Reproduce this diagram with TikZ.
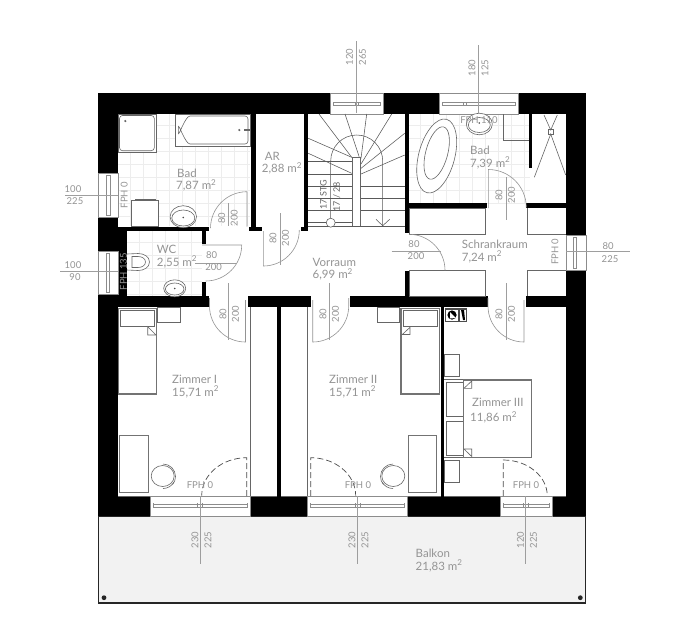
\documentclass[tikz,border=0pt]{standalone}
\usepackage{fontspec}
\setmainfont{Lato}
\tikzset{
    room_txt/.style = {align=left, inner sep=0pt, anchor=north west, text=black!42, font=\fontsize{11.5}{12.5}\selectfont},
    dim_txt/.style = {inner sep=0pt, text=black!42, font=\fontsize{9.5}{10}\selectfont},
    stg_txt/.style = {dim_txt, rotate=90, text=black!60, font=\fontsize{9}{10}\selectfont},
    wall/.style = {fill=black, draw=none},
    plan_line/.style = {draw=black!60, line width=0.6pt},
    bold_line/.style = {draw=black!55, line width=1.3pt},
    dim_line/.style = {draw=black!38, line width=0.5pt},
    door_line/.style = {draw=black!42, line width=0.6pt},
    glass_door/.style = {draw=black!70, line width=0.7pt, dash pattern=on 6pt off 3pt},
    tile_line/.style = {draw=black!7, line width=0.4pt},
    stair_line/.style = {draw=black!65, line width=0.55pt},
    frame_line/.style = {draw=black!45, line width=0.45pt}
}
\begin{document}
\begin{tikzpicture}[x=1pt, y=-1pt]
    \useasboundingbox (0,0) rectangle (700,641);
    \fill[white] (0,0) rectangle (700,641);
    \foreach \tx in {130,143,...,250} {\draw[tile_line] (\tx,114) -- (\tx,226);}
    \foreach \ty in {125,138,...,226} {\draw[tile_line] (118,\ty) -- (250,\ty);}
    \foreach \tx in {139,152,...,202} {\draw[tile_line] (\tx,231) -- (\tx,296);}
    \foreach \ty in {242,255,...,296} {\draw[tile_line] (127,\ty) -- (202,\ty);}
    \foreach \tx in {420,433,...,530} {\draw[tile_line] (\tx,114) -- (\tx,203);}
    \foreach \ty in {125,138,...,203} {\draw[tile_line] (409,\ty) -- (530,\ty);}

    \draw[draw=black!85, fill=black!5, line width=1.4pt] (98.5,516) rectangle (585.2,603);
    \fill[wall] (98,93) rectangle (330.5,114);
    \fill[wall] (383,93) rectangle (439,114);
    \fill[wall] (518,93) rectangle (586,114);
    \fill[wall] (98,93) rectangle (118,173);
    \fill[wall] (98,217) rectangle (118,251);
    \fill[wall] (98,294) rectangle (118,516);
    \fill[wall] (118,226.5) rectangle (127,307);
    \fill[wall] (118,226.5) rectangle (209,231);
    \fill[wall] (202,231) rectangle (206,244);
    \fill[wall] (202,282) rectangle (206,296);
    \fill[wall] (118,296) rectangle (209,307);
    \fill[wall] (247.5,296) rectangle (311,307);
    \fill[wall] (350,296) rectangle (487.5,307);
    \fill[wall] (525.5,296) rectangle (566,307);
    \fill[wall] (566,93) rectangle (586,235);
    \fill[wall] (566,270) rectangle (586,516);
    \fill[wall] (250.7,114) rectangle (255.5,231);
    \fill[wall] (248.5,226.7) rectangle (261.5,231);
    \fill[wall] (303.7,114) rectangle (308.3,231);
    \fill[wall] (300.7,226.7) rectangle (308.3,231);
    \fill[wall] (404.8,114) rectangle (409,233);
    \fill[wall] (405,271) rectangle (409,296);
    \fill[wall] (409,203.3) rectangle (486.7,208.3);
    \fill[wall] (526,203.3) rectangle (566,208.3);
    \fill[wall] (529.3,114) rectangle (531.7,168);
    \fill[wall] (276.7,307) rectangle (281,496);
    \fill[wall] (440.5,307) rectangle (444.3,496);
    \fill[wall] (98,496) rectangle (150,516);
    \fill[wall] (250.5,496) rectangle (307.5,516);
    \fill[wall] (407.7,496) rectangle (500,516);
    \fill[wall] (552,496) rectangle (586,516);

    \draw[plan_line] (118,496) -- (276.7,496);
    \draw[plan_line] (281,496) -- (440.5,496);
    \draw[plan_line] (444.3,496) -- (566,496);
    \draw[plan_line] (250.7,307) -- (250.7,496);
    \draw[plan_line] (307.3,307) -- (307.3,496);

    \foreach \xa/\xb/\xm in {150/250.5/200, 307.5/407.7/357.3, 500/552/525.7} {
        \draw[frame_line, fill=white] (\xa,496) rectangle (\xb,516);
        \draw[frame_line] (\xa+3,504) rectangle (\xb-3,507);
        \draw[frame_line] (\xa+3,503) -- (\xa+3,508) (\xb-3,503) -- (\xb-3,508) (\xm-2.5,503) -- (\xm-2.5,508) (\xm+2.5,503) -- (\xm+2.5,508);
    }
    \foreach \xa/\xb/\xm in {330.5/383/356.7, 439/518/465} {
        \draw[frame_line, fill=white] (\xa,93) rectangle (\xb,114);
        \draw[frame_line] (\xa+3,102) rectangle (\xb-3,105.5);
        \draw[frame_line] (\xm-1.5,102) -- (\xm-1.5,105.5) (\xm+1.5,102) -- (\xm+1.5,105.5);
    }
    \foreach \ya/\yb/\xa/\xb/\xc/\xd in {173/217/98/118/106.7/110, 251/294/98/118/106.7/109.5, 235/270/566/586/573.5/576.5} {
        \draw[frame_line, fill=white] (\xa,\ya) rectangle (\xb,\yb);
        \draw[frame_line] (\xc,\ya+2) rectangle (\xd,\yb-2);
    }

    \draw[plan_line] (409,208.3) rectangle (485.5,234);
    \draw[plan_line] (527.7,208.3) -- (527.7,234) -- (566,234);
    \draw[plan_line] (409,270) rectangle (485.5,296);
    \draw[plan_line] (566,270) -- (527.7,270) -- (527.7,296);

    \draw[plan_line, fill=white] (118,114) rectangle (156,152.7);
    \draw[plan_line, fill=white, rounded corners=3pt] (119.5,115.5) rectangle (154.3,150.7);
    \fill[black!60] (125.3,121) circle (1.2);
    \draw[plan_line, fill=white] (175.3,114) rectangle (250.5,146);
    \draw[plan_line, fill=white, rounded corners=3pt] (248,116) -- (193,116) to[out=180,in=270] (178.3,130) to[out=90,in=180] (193,144) -- (248,144) -- cycle;
    \fill[black!60] (239.3,130) circle (1.2);
    \fill[black!60] (244,129) rectangle (250.5,131);
    \draw[plan_line, fill=white] (131.7,200) rectangle (158.7,226.5);
    \draw[plan_line] (135,198.8) -- (156,198.8);
    \draw[plan_line, fill=white] (183.3,216.7) ellipse [x radius=13.2, y radius=11];
    \draw[plan_line] (183.3,218) ellipse [x radius=11.5, y radius=8];
    \fill[black!70] (183.3,217.5) circle (0.9);

    \draw[plan_line, fill=white] (127,254) -- (138,253.5) to[out=0,in=90] (149.5,262) to[out=-90,in=0] (138,270.5) -- (127,270);
    \draw[plan_line] (132,256.5) -- (138,256.5) to[out=0,in=90] (145.5,262) to[out=-90,in=0] (138,267.5) -- (132,267.5) -- cycle;
    \draw[plan_line, fill=white] (174.7,288.3) ellipse [x radius=11, y radius=8.5];
    \draw[plan_line] (174.7,289) ellipse [x radius=9.3, y radius=6];
    \fill[black!70] (174.7,288.5) circle (0.9);

    \draw[plan_line, fill=white, rotate around={-15:(436.7,156)}] (436.7,156) ellipse [x radius=18, y radius=38];
    \draw[plan_line, rotate around={-15:(436.7,153)}] (436.7,153) ellipse [x radius=11, y radius=27];
    \draw[plan_line, fill=white] (479.3,124) ellipse [x radius=13, y radius=10.8];
    \draw[plan_line] (479.3,125) ellipse [x radius=11, y radius=7.5];
    \fill[black!70] (479.3,123) circle (0.9);
    \draw[plan_line] (503.3,114) -- (503.3,140) -- (529.3,140);
    \draw[plan_line] (544,115) -- (550.7,130) -- (557.3,115);
    \draw[plan_line] (548.5,129) rectangle (552.9,134);
    \draw[plan_line] (534.3,177.3) -- (550.7,134) -- (565.7,175);

    \foreach \xa/\ya/\xb/\yb in {319/114/351.7/157.3, 345/114/359.3/157.3, 366.7/114/361/158.3, 391.7/114/361/164, 404.7/133.3/361/168.3, 404.7/155/361/174, 308.3/138.3/351.7/157.3, 308.3/153.3/351.7/173.3} {
        \draw[stair_line] (\xa,\ya) -- (\xb,\yb);
    }
    \foreach \ty in {161.7,174,186,198.3,210.7,222.7} {\draw[stair_line] (308.3,\ty) -- (352.3,\ty);}
    \foreach \ty in {186,198.3,210.7} {\draw[stair_line] (360.7,\ty) -- (404.8,\ty);}
    \draw[stair_line] (308.3,226.3) -- (404.8,226.3);
    \draw[plan_line, line width=0.8pt, fill=white] (352.3,226) -- (352.3,157.3) -- (360.7,157.3) -- (360.7,226);
    \draw[stair_line] (330.7,218) -- (330.7,161) arc [start angle=180, end angle=360, radius=26] -- (382.7,225.5);
    \draw[stair_line] (376,219.3) -- (382.7,225.7) -- (389.7,219.3);
    \draw[stair_line, fill=white] (330.7,222.7) circle (4.5);

    \draw[door_line] (247,191.7) -- (247,226.5) (247,191.7) arc [start angle=270, end angle=180, radius=36.5];
    \draw[door_line] (263.3,231) -- (263.3,266) arc [start angle=90, end angle=0, radius=36];
    \draw[door_line] (202,245) -- (241.7,245) arc [start angle=0, end angle=90, radius=36];
    \draw[door_line] (245.5,300) -- (245.5,342) arc [start angle=90, end angle=180, radius=36] -- (209.5,298);
    \draw[door_line] (312.7,300) -- (312.7,342) arc [start angle=90, end angle=0, radius=36] -- (348.7,298);
    \draw[door_line] (524,300) -- (524,342) arc [start angle=90, end angle=180, radius=36] -- (488,298);
    \draw[door_line] (409,234.3) arc [start angle=270, end angle=360, radius=36];
    \draw[door_line] (488.3,208) -- (488.3,169.5) arc [start angle=270, end angle=360, radius=38];

    \draw[glass_door] (246.7,496) -- (246.7,457.7) arc [start angle=270, end angle=180, x radius=45, y radius=38];
    \draw[glass_door] (310.7,496) -- (310.7,457.7) arc [start angle=270, end angle=360, x radius=45, y radius=38];
    \draw[glass_door] (503.3,496) -- (503.3,460) arc [start angle=270, end angle=360, x radius=44, y radius=36];

    \draw[dim_line] (356.7,41) -- (356.7,113);
    \draw[dim_line] (478.5,45) -- (478.5,113);
    \draw[dim_line] (65,195.5) -- (118,195.5);
    \draw[dim_line] (60,271.7) -- (118,271.7);
    \draw[dim_line] (566,251.7) -- (630,251.7);
    \draw[dim_line] (200,496) -- (200,564);
    \draw[dim_line] (357.3,496) -- (357.3,564);
    \draw[dim_line] (525.7,496) -- (525.7,564);
    \draw[dim_line] (228,203) -- (228,226);
    \draw[dim_line] (280.7,213) -- (280.7,265);
    \draw[dim_line] (195,263) -- (236,263);
    \draw[dim_line] (228.3,283) -- (228.3,340);
    \draw[dim_line] (329.3,283) -- (329.3,340);
    \draw[dim_line] (506,283) -- (506,340);
    \draw[dim_line] (391.7,251.7) -- (441,251.7);
    \draw[dim_line] (506.7,177) -- (506.7,220);

    \draw[bold_line, fill=white] (118.5,308.3) rectangle (156.7,394);
    \draw[plan_line] (120.7,310) rectangle (154,326.5);
    \draw[plan_line, fill=white] (147.7,326.7) -- (156,335) -- (147.7,335) -- cycle;
    \draw[plan_line] (157.7,307) rectangle (180,322.3);
    \draw[bold_line, line width=0.9pt] (119.3,435.3) rectangle (148.7,492.3);
    \draw[plan_line] (162.7,476) ellipse [x radius=11.5, y radius=10.5];
    \draw[plan_line] (163,464) arc [start angle=270, end angle=400, x radius=12.5, y radius=12.5];
    \draw[plan_line] (163,488.5) arc [start angle=90, end angle=30, x radius=12.5, y radius=12.5];

    \draw[bold_line, fill=white] (401,308.3) rectangle (439.3,394);
    \draw[plan_line] (403.3,310) rectangle (437.7,326.7);
    \draw[plan_line, fill=white] (410,327.3) -- (402.3,334.5) -- (410,334.5) -- cycle;
    \draw[plan_line] (377.7,307) rectangle (399.3,322.3);
    \draw[bold_line, line width=0.9pt] (408.3,435.3) rectangle (436.7,492.3);
    \draw[plan_line] (393.3,476) ellipse [x radius=11.5, y radius=10.5];
    \draw[plan_line] (393,464) arc [start angle=270, end angle=140, x radius=12.5, y radius=12.5];
    \draw[plan_line] (393,488.5) arc [start angle=90, end angle=150, x radius=12.5, y radius=12.5];

    \draw[plan_line] (444.3,379) -- (464,379);
    \draw[plan_line] (444.3,457.7) -- (464,457.7);
    \draw[plan_line] (446.7,382.3) rectangle (465.7,416);
    \draw[plan_line] (446.7,421) rectangle (465.7,455.7);
    \draw[bold_line, fill=white] (463.5,380) rectangle (531.7,457.3);
    \draw[plan_line, fill=white] (471.7,381) -- (464,388.3) -- (471.7,388.3) -- cycle;
    \draw[plan_line, fill=white] (464,449) -- (471.7,449) -- (471.7,456.5) -- cycle;
    \draw[plan_line] (444.3,354.3) rectangle (459.3,376.7);
    \draw[plan_line] (444.3,460.7) rectangle (459.3,482.7);

    \fill[black!70] (445,308.3) rectangle (466.7,321.7);
    \fill[white] (446,309.5) rectangle (458.3,320.5);
    \fill[black] (452,315) circle (4.6);
    \fill[white] (450,312) -- (456,318) -- (450,318.5) -- cycle;
    \fill[white] (459.5,309.5) rectangle (465.7,320.5);
    \fill[black] (461,310) -- (464,310) -- (465,320) -- (463,320) -- cycle;

    \fill[black!85] (104,597.7) circle (2.4);
    \fill[black!85] (580.3,597.7) circle (2.4);

    \node[room_txt] (bad_eins) at (176,168.5) {\hspace*{1pt}Bad\\7,87 m\textsuperscript{2}};
    \node[room_txt] (ar) at (261.7,152) {\hspace*{3pt}AR\\2,88 m\textsuperscript{2}};
    \node[room_txt] (bad_zwei) at (470,146) {Bad\\7,39 m\textsuperscript{2}};
    \node[room_txt] (wc) at (156.7,245) {WC\\2,55 m\textsuperscript{2}};
    \node[room_txt] (vorraum) at (312.5,258) {Vorraum\\6,99 m\textsuperscript{2}};
    \node[room_txt] (schrank) at (461.7,240) {Schrankraum\\7,24 m\textsuperscript{2}};
    \node[room_txt] (zimmer_eins) at (172,375) {Zimmer I\\15,71 m\textsuperscript{2}};
    \node[room_txt] (zimmer_zwei) at (329,375) {Zimmer II\\15,71 m\textsuperscript{2}};
    \node[room_txt, font=\fontsize{11.5}{15}\selectfont] (zimmer_drei) at (470,398) {\hspace*{2pt}Zimmer III\\11,86 m\textsuperscript{2}};
    \node[room_txt] (balkon) at (415.5,549) {Balkon\\21,83 m\textsuperscript{2}};

    \foreach \nx/\ny/\la/\lb in {349.5/57/120/265, 472/68/180/125, 195/540/230/225, 352/540/230/225, 520.5/540/120/225} {
        \node[dim_txt, rotate=90] at (\nx,\ny) {\la};
        \node[dim_txt, rotate=90] at (\nx+13,\ny) {\lb};
    }
    \foreach \nx/\ny/\la/\lb in {73/189/100/225, 73/265/100/90, 608/246.5/80/225, 211.7/255/80/200, 414/244/80/200} {
        \node[dim_txt] at (\nx,\ny) {\la};
        \node[dim_txt] at (\nx+2,\ny+12.5) {\lb};
    }
    \foreach \nx/\ny in {221.7/218, 273/238, 223/314, 323/314, 499/314, 499/195} {
        \node[dim_txt, rotate=90] at (\nx,\ny) {80};
        \node[dim_txt, rotate=90] at (\nx+12.5,\ny) {200};
    }
    \node[dim_txt, rotate=90] (fph_bad) at (124.3,195) {FPH 0};
    \node[dim_txt, rotate=90] (fph_wc) at (123.5,271.7) {FPH 135};
    \node[dim_txt, rotate=90] (fph_schrank) at (555,251.7) {FPH 0};
    \node[dim_txt] (fph_bad_zwei) at (479,120) {FPH 110};
    \node[dim_txt] (fph_z_eins) at (200,485) {FPH 0};
    \node[dim_txt] (fph_z_zwei) at (358,485) {FPH 0};
    \node[dim_txt] (fph_z_drei) at (526,485) {FPH 0};
    \node[stg_txt] (stg) at (323.3,195) {17 STG};
    \node[stg_txt] (stg_mass) at (336.7,196.7) {17 / 28};
\end{tikzpicture}
\end{document}
